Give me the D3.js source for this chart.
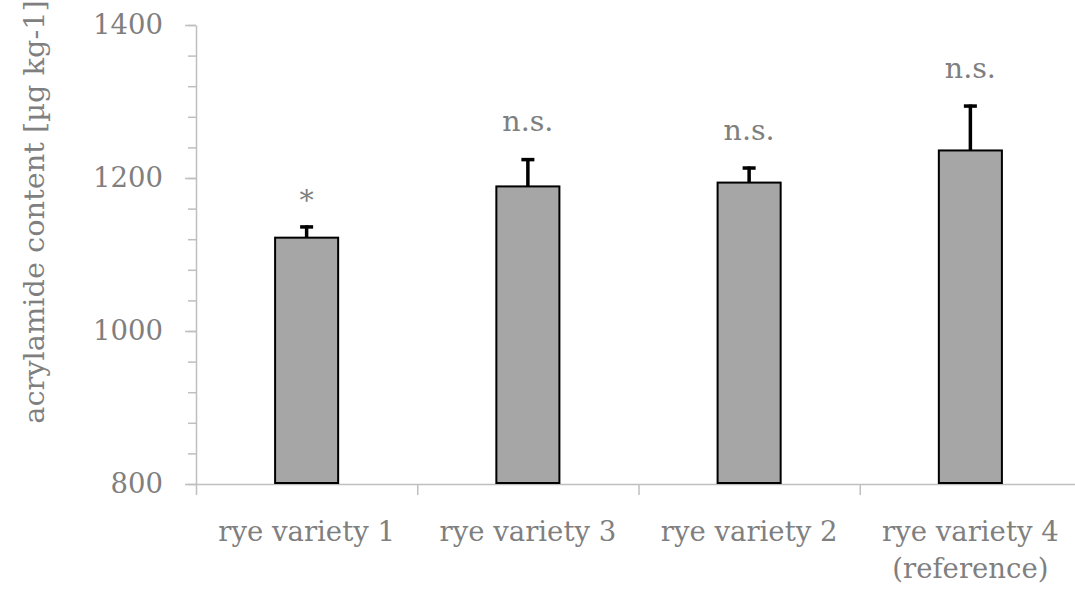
<!DOCTYPE html>
<html>
<head>
<meta charset="utf-8">
<script src="https://cdn.jsdelivr.net/npm/d3@7"></script>
<style>
  html, body { margin: 0; padding: 0; background: #fff; }
  svg { display: block; }
  text { font-family: "DejaVu Serif", "Liberation Serif", serif; fill: #7f7f7f; }
</style>
</head>
<body>
<svg id="chart" width="1075" height="592"></svg>
<script>
const categories = ["rye variety 1", "rye variety 3", "rye variety 2", "rye variety 4\n(reference)"];
const values = [1122, 1189, 1194, 1236];
const errors = [16, 37, 21, 60];
const significance = ["*", "n.s.", "n.s.", "n.s."];
const yTicks = [800, 1000, 1200, 1400];
const yMinorTicks = d3.range(800, 1401, 40);
const yTitle = "acrylamide content [µg kg-1]";

(function () {
const svg = d3.select("#chart");
const mLeft = 196, mRight = 1081, mTop = 25, mBottom = 484;
const fontSize = 27.5;

const x = d3.scaleBand().domain(categories).range([mLeft, mRight]).paddingInner(0).paddingOuter(0);
const xEdges = d3.scaleLinear().domain([0, categories.length]).range([mLeft, mRight]);
const y = d3.scaleLinear().domain([800, 1400]).range([mBottom, mTop]);

const axisColor = "#bfbfbf";

// Minor y ticks
const yMinor = svg.append("g").attr("transform", `translate(${mLeft},0)`)
  .call(d3.axisLeft(y).tickValues(yMinorTicks).tickSize(8).tickFormat(""));
yMinor.select(".domain").remove();
yMinor.selectAll("line").attr("stroke", axisColor).attr("stroke-width", 1.5);

// Major y axis
const yAxis = svg.append("g").attr("transform", `translate(${mLeft},0)`)
  .call(d3.axisLeft(y).tickValues(yTicks).tickFormat(d3.format("d")).tickSize(11).tickPadding(22).tickSizeOuter(0));
yAxis.select(".domain").attr("stroke", axisColor).attr("stroke-width", 1.5);
yAxis.selectAll("line").attr("stroke", axisColor).attr("stroke-width", 1.5);
yAxis.selectAll("text").style("font-size", fontSize + "px").attr("fill", "#7f7f7f")
  .style("font-family", "'DejaVu Serif', serif");

// x axis (category boundary ticks)
const xAxis = svg.append("g").attr("transform", `translate(0,${mBottom})`)
  .call(d3.axisBottom(xEdges).tickValues(d3.range(0, categories.length + 1)).tickSize(11).tickSizeOuter(0).tickFormat(""));
xAxis.select(".domain").attr("stroke", axisColor).attr("stroke-width", 1.5);
xAxis.selectAll("line").attr("stroke", axisColor).attr("stroke-width", 1.5);

const barW = x.bandwidth() * 0.285;
const data = categories.map((c, i) => ({c, v: values[i], e: errors[i], s: significance[i]}));
const cx = d => x(d.c) + x.bandwidth() / 2;

// Error bars (upper)
const eg = svg.append("g");
eg.selectAll("line.stem").data(data).join("line").attr("class", "stem")
  .attr("x1", cx).attr("x2", cx)
  .attr("y1", d => y(d.v))
  .attr("y2", d => y(d.v + d.e))
  .attr("stroke", "#000").attr("stroke-width", 3.5);
eg.selectAll("line.cap").data(data).join("line").attr("class", "cap")
  .attr("x1", d => cx(d) - 6.5)
  .attr("x2", d => cx(d) + 6.5)
  .attr("y1", d => y(d.v + d.e) + 1.5)
  .attr("y2", d => y(d.v + d.e) + 1.5)
  .attr("stroke", "#000").attr("stroke-width", 3.5);

svg.append("g").selectAll("rect").data(data).join("rect")
  .attr("x", d => x(d.c) + (x.bandwidth() - barW) / 2)
  .attr("width", barW)
  .attr("y", d => y(d.v))
  .attr("height", d => y(800) - y(d.v) - 1)
  .attr("fill", "#a6a6a6")
  .attr("stroke", "#000").attr("stroke-width", 2);

// Significance labels
svg.append("g").selectAll("text").data(data).join("text")
  .attr("x", cx)
  .attr("y", d => y(d.v + d.e) - 27 + (d.s === "*" ? 12 : 0))
  .attr("text-anchor", "middle")
  .style("font-size", "28.5px")
  .text(d => d.s);

// Category labels
const catG = svg.append("g");
data.forEach(d => {
  const t = catG.append("text")
    .attr("x", cx(d))
    .attr("y", 541)
    .attr("text-anchor", "middle")
    .style("font-size", fontSize + "px");
  d.c.split("\n").forEach((line, i) => {
    t.append("tspan").attr("x", cx(d)).attr("dy", i === 0 ? 0 : 37).text(line);
  });
});

// Y title
svg.append("text")
  .attr("transform", `translate(44,212) rotate(-90)`)
  .attr("text-anchor", "middle")
  .style("font-size", "28.8px")
  .text(yTitle);
})();
</script>
</body>
</html>
